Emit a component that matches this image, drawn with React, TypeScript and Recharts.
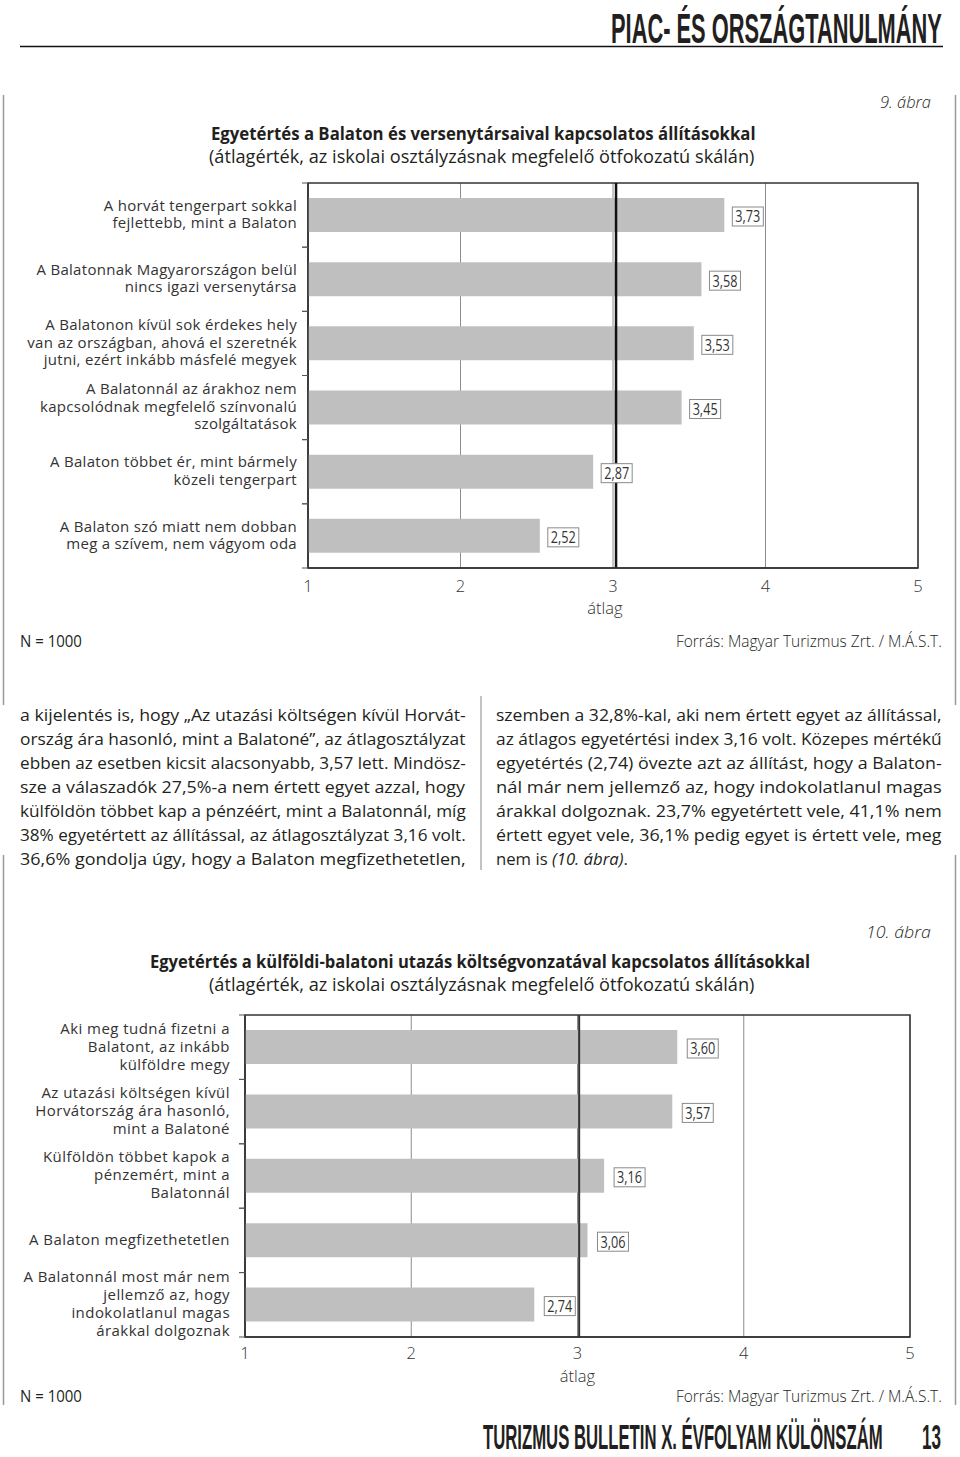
import React, { useLayoutEffect, useRef, useState } from "react";
import {
  Bar,
  BarChart,
  CartesianGrid,
  LabelList,
  ReferenceArea,
  ReferenceLine,
  XAxis,
  YAxis,
} from "recharts";

const FONT = "'Open Sans', 'Noto Sans', sans-serif";
const HEAD_FONT = "'Liberation Sans', 'DejaVu Sans', sans-serif";
const INK = "#231f20";

// 9. ábra
const fig9Statements = [
  "A horvát tengerpart sokkal\nfejlettebb, mint a Balaton",
  "A Balatonnak Magyarországon belül\nnincs igazi versenytársa",
  "A Balatonon kívül sok érdekes hely\nvan az országban, ahová el szeretnék\njutni, ezért inkább másfelé megyek",
  "A Balatonnál az árakhoz nem\nkapcsolódnak megfelelő színvonalú\nszolgáltatások",
  "A Balaton többet ér, mint bármely\nközeli tengerpart",
  "A Balaton szó miatt nem dobban\nmeg a szívem, nem vágyom oda",
];
const fig9Means = [3.73, 3.58, 3.53, 3.45, 2.87, 2.52];
const fig9Average = 3.02;

// 10. ábra
const fig10Statements = [
  "Aki meg tudná fizetni a\nBalatont, az inkább\nkülföldre megy",
  "Az utazási költségen kívül\nHorvátország ára hasonló,\nmint a Balatoné",
  "Külföldön többet kapok a\npénzemért, mint a\nBalatonnál",
  "A Balaton megfizethetetlen",
  "A Balatonnál most már nem\njellemző az, hogy\nindokolatlanul magas\nárakkal dolgoznak",
];
const fig10Means = [3.6, 3.57, 3.16, 3.06, 2.74];
const fig10Average = 3.01;

const scaleTicks = [1, 2, 3, 4, 5];

const leftColumn = [
  "a kijelentés is, hogy „Az utazási költségen kívül Horvát-",
  "ország ára hasonló, mint a Balatoné”, az átlagosztályzat",
  "ebben az esetben kicsit alacsonyabb, 3,57 lett. Mindösz-",
  "sze a válaszadók 27,5%-a nem értett egyet azzal, hogy",
  "külföldön többet kap a pénzéért, mint a Balatonnál, míg",
  "38% egyetértett az állítással, az átlagosztályzat 3,16 volt.",
  "36,6% gondolja úgy, hogy a Balaton megfizethetetlen,",
];
const rightColumn = [
  "szemben a 32,8%-kal, aki nem értett egyet az állítással,",
  "az átlagos egyetértési index 3,16 volt. Közepes mértékű",
  "egyetértés (2,74) övezte azt az állítást, hogy a Balaton-",
  "nál már nem jellemző az, hogy indokolatlanul magas",
  "árakkal dolgoznak. 23,7% egyetértett vele, 41,1% nem",
  "értett egyet vele, 36,1% pedig egyet is értett vele, meg",
];

const fmt = (v: number) => v.toFixed(2).replace(".", ",");

type Geom = {
  top: number;
  height: number;
  plotLeft: number;
  plotRight: number;
  plotTop: number;
  plotBottom: number;
  lineH: number;
  labelSpacing: number;
  labelPad: number;
  labelGap: number;
  tickDy: number;
  titleBase: number;
  titleDx: number;
  avgWidth: number;
  avgColor: string;
};

const fig9Geom: Geom = {
  top: 175,
  height: 445,
  plotLeft: 308,
  plotRight: 918,
  plotTop: 183,
  plotBottom: 568,
  lineH: 17.5,
  labelSpacing: 0.3,
  labelPad: 11,
  labelGap: 8,
  tickDy: 24,
  titleBase: 46,
  titleDx: -8,
  avgWidth: 2.5,
  avgColor: "#111",
};

const fig10Geom: Geom = {
  top: 1000,
  height: 390,
  plotLeft: 245,
  plotRight: 910,
  plotTop: 1015,
  plotBottom: 1337,
  lineH: 18,
  labelSpacing: 0.45,
  labelPad: 15,
  labelGap: 10,
  tickDy: 22,
  titleBase: 45,
  titleDx: 0,
  avgWidth: 2,
  avgColor: "#333",
};

function StatementTick(props: any) {
  const { x, y, payload, band, lineH, spacing, pad } = props;
  const lines = String(payload.value).split("\n");
  const first = y - ((lines.length - 1) * lineH) / 2 - 1;
  return (
    <g>
      <line x1={x - 6} x2={x} y1={y - band / 2} y2={y - band / 2} stroke="#555" />
      <line x1={x - 6} x2={x} y1={y + band / 2} y2={y + band / 2} stroke="#555" />
      <text textAnchor="end" fontFamily={FONT} fontSize={15} letterSpacing={spacing} fill="#333">
        {lines.map((l, i) => (
          <tspan key={i} x={x - pad} y={first + i * lineH} dy="0.36em">
            {l}
          </tspan>
        ))}
      </text>
    </g>
  );
}

function ScaleTick(props: any) {
  const { x, y, payload, dy } = props;
  return (
    <text x={x} y={y + dy} textAnchor="middle" fontFamily={FONT} fontSize={16.5} fontWeight={300} fill="#333">
      {payload.value}
    </text>
  );
}

function MeanLabel(props: any) {
  const vb = props.viewBox ?? props;
  const x = Number(vb.x);
  const y = Number(vb.y);
  const width = Number(vb.width);
  const height = Number(vb.height);
  const bx = x + width + props.gap;
  const cy = y + height / 2 + 1.5;
  return (
    <g>
      <rect x={bx} y={cy - 9.5} width={31} height={19} fill="#fff" stroke="#8a8a8a" strokeWidth={1} />
      <text
        x={bx + 15.5}
        y={cy}
        dy="0.37em"
        textAnchor="middle"
        fontFamily={FONT}
        fontSize={16}
        fontWeight={400}
        fill="#333"
        textLength={25}
        lengthAdjust="spacingAndGlyphs"
      >
        {fmt(Number(props.value))}
      </text>
    </g>
  );
}

function MeanChart({ statements, means, average, g }: { statements: string[]; means: number[]; average: number; g: Geom }) {
  const data = statements.map((statement, i) => ({ statement, mean: means[i] }));
  const band = (g.plotBottom - g.plotTop) / data.length;
  const marginTop = g.plotTop - g.top;
  const axisH = g.height - marginTop - (g.plotBottom - g.plotTop);
  return (
    <div style={{ position: "absolute", left: 0, top: g.top, width: 960, height: g.height }}>
      <BarChart
        width={960}
        height={g.height}
        data={data}
        layout="vertical"
        margin={{ top: marginTop, right: 960 - g.plotRight, bottom: 0, left: 0 }}
        barCategoryGap={0}
      >
        <CartesianGrid horizontal={false} stroke="#8c8c8c" strokeWidth={1} />
        <XAxis
          type="number"
          domain={[1, 5]}
          ticks={scaleTicks}
          interval={0}
          allowDataOverflow
          tickLine={false}
          tickSize={0}
          tickMargin={0}
          height={axisH}
          axisLine={{ stroke: "#333", strokeWidth: 1.5 }}
          tick={<ScaleTick dy={g.tickDy} />}
          label={{
            value: "átlag",
            position: "insideBottom",
            offset: axisH - g.titleBase,
            dx: g.titleDx,
            fontFamily: FONT,
            fontSize: 16.5,
            fontWeight: 300,
            fill: "#333",
          }}
        />
        <YAxis
          type="category"
          dataKey="statement"
          width={g.plotLeft}
          interval={0}
          tickLine={false}
          tickSize={0}
          tickMargin={0}
          axisLine={{ stroke: "#333", strokeWidth: 1.5 }}
          tick={<StatementTick band={band} lineH={g.lineH} spacing={g.labelSpacing} pad={g.labelPad} />}
        />
        <ReferenceArea x1={1} x2={5} fill="none" fillOpacity={0} stroke="#333" strokeWidth={1.5} ifOverflow="visible" />
        <Bar dataKey="mean" fill="#bfbfbf" barSize={34} isAnimationActive={false}>
          <LabelList dataKey="mean" content={<MeanLabel gap={g.labelGap} />} />
        </Bar>
        <ReferenceLine x={average} stroke={g.avgColor} strokeWidth={g.avgWidth} ifOverflow="visible" />
      </BarChart>
    </div>
  );
}

// text squeezed horizontally to a given width (scaled, so its box matches what is drawn)
function Fit({
  x,
  y,
  w,
  size,
  weight = 400,
  italic = false,
  family = FONT,
  children,
}: {
  x: number;
  y: number;
  w: number;
  size: number;
  weight?: number;
  italic?: boolean;
  family?: string;
  children: React.ReactNode;
}) {
  const ref = useRef<SVGTextElement>(null);
  const [k, setK] = useState(1);
  useLayoutEffect(() => {
    const el = ref.current;
    if (!el) return;
    const natural = el.getBBox().width;
    if (natural > 0) setK(w / natural);
  }, [w]);
  return (
    <text
      ref={ref}
      x={x}
      y={y}
      transform={`translate(${x} 0) scale(${k} 1) translate(${-x} 0)`}
      fontFamily={family}
      fontSize={size}
      fontWeight={weight}
      fontStyle={italic ? "italic" : "normal"}
      fill={INK}
    >
      {children}
    </text>
  );
}

function Page() {
  return (
    <svg width={960} height={1457} style={{ position: "absolute", left: 0, top: 0 }}>
      {/* fejléc */}
      <Fit x={611} y={43} w={331} size={42} weight={700} family={HEAD_FONT}>
        PIAC- ÉS ORSZÁGTANULMÁNY
      </Fit>
      <line x1={20} x2={943} y1={46.5} y2={46.5} stroke="#111" strokeWidth={1.5} />

      {/* keretek */}
      <line x1={3.5} x2={3.5} y1={95} y2={705} stroke="#999" strokeWidth={1.5} />
      <line x1={955.5} x2={955.5} y1={95} y2={705} stroke="#999" strokeWidth={1.5} />
      <line x1={3.5} x2={3.5} y1={855} y2={1405} stroke="#999" strokeWidth={1.5} />
      <line x1={955.5} x2={955.5} y1={855} y2={1405} stroke="#999" strokeWidth={1.5} />

      {/* 9. ábra */}
      <Fit x={880} y={108} w={51} size={17} weight={300} italic>
        9. ábra
      </Fit>
      <Fit x={211} y={140} w={545} size={17.5} weight={700}>
        Egyetértés a Balaton és versenytársaival kapcsolatos állításokkal
      </Fit>
      <Fit x={209} y={163} w={546} size={17.5} weight={500}>
        (átlagérték, az iskolai osztályzásnak megfelelő ötfokozatú skálán)
      </Fit>
      <Fit x={20} y={647} w={62} size={16}>
        N = 1000
      </Fit>
      <Fit x={676} y={647} w={266} size={16} weight={300}>
        Forrás: Magyar Turizmus Zrt. / M.Á.S.T.
      </Fit>

      {/* szöveg */}
      {leftColumn.map((l, i) => (
        <Fit key={"l" + i} x={20} y={721 + i * 24} w={446} size={17}>
          {l}
        </Fit>
      ))}
      {rightColumn.map((l, i) => (
        <Fit key={"r" + i} x={496} y={721 + i * 24} w={446} size={17}>
          {l}
        </Fit>
      ))}
      <Fit x={496} y={865} w={132} size={17}>
        nem is <tspan fontStyle="italic">(10. ábra)</tspan>.
      </Fit>
      <line x1={481} x2={481} y1={696} y2={870} stroke="#888" strokeWidth={1} />

      {/* 10. ábra */}
      <Fit x={866} y={938} w={65} size={17} weight={300} italic>
        10. ábra
      </Fit>
      <Fit x={150} y={968} w={661} size={17.5} weight={700}>
        Egyetértés a külföldi-balatoni utazás költségvonzatával kapcsolatos állításokkal
      </Fit>
      <Fit x={209} y={991} w={546} size={17.5} weight={500}>
        (átlagérték, az iskolai osztályzásnak megfelelő ötfokozatú skálán)
      </Fit>
      <Fit x={20} y={1402} w={62} size={16}>
        N = 1000
      </Fit>
      <Fit x={676} y={1402} w={266} size={16} weight={300}>
        Forrás: Magyar Turizmus Zrt. / M.Á.S.T.
      </Fit>

      {/* lábléc */}
      <Fit x={483} y={1449} w={400} size={36} weight={700} family={HEAD_FONT}>
        TURIZMUS BULLETIN X. ÉVFOLYAM KÜLÖNSZÁM
      </Fit>
      <Fit x={922} y={1449} w={19} size={36} weight={700} family={HEAD_FONT}>
        13
      </Fit>
    </svg>
  );
}

export default function App() {
  return (
    <div style={{ position: "absolute", left: 0, top: 0, width: 960, height: 1457, background: "#fff" }}>
      <Page />
      <MeanChart statements={fig9Statements} means={fig9Means} average={fig9Average} g={fig9Geom} />
      <MeanChart statements={fig10Statements} means={fig10Means} average={fig10Average} g={fig10Geom} />
    </div>
  );
}
